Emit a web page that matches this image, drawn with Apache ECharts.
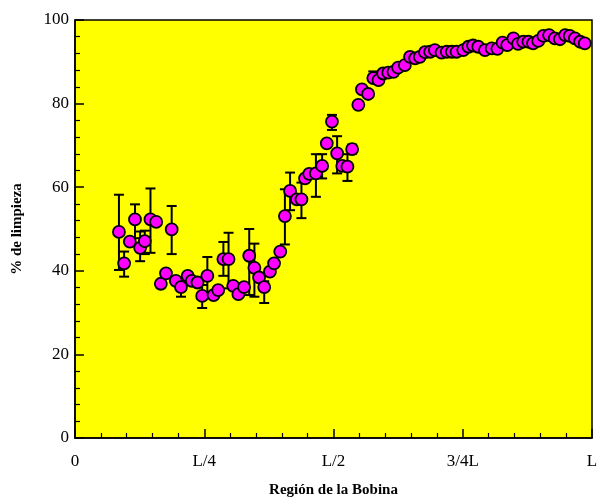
<!DOCTYPE html>
<html>
<head>
<meta charset="utf-8">
<script src="https://cdn.jsdelivr.net/npm/echarts@6/dist/echarts.min.js"></script>
<style>
  html, body { margin: 0; padding: 0; background: #fff; }
  #chart { width: 598px; height: 499px; }
</style>
</head>
<body>
<div id="chart"></div>
<script>
// posición a lo largo de la bobina, en % de L
const xPos = [8.5, 9.5, 10.6, 11.6, 12.6, 13.5, 14.6, 15.7, 16.6, 17.6,
  18.7, 19.5, 20.5, 21.8, 22.6, 23.7, 24.6, 25.6, 26.8, 27.7,
  28.7, 29.7, 30.6, 31.6, 32.7, 33.7, 34.7, 35.6, 36.6, 37.7,
  38.5, 39.7, 40.6, 41.6, 42.9, 43.8, 44.5, 45.3, 46.6, 47.8,
  48.7, 49.7, 50.7, 51.7, 52.7, 53.6, 54.8, 55.5, 56.7, 57.7,
  58.7, 59.6, 60.6, 61.6, 62.5, 63.8, 64.8, 65.8, 66.7, 67.7,
  68.7, 69.6, 70.9, 71.9, 72.9, 73.8, 75.1, 76.1, 77.0, 78.0,
  79.3, 80.6, 81.7, 82.7, 83.6, 84.8, 85.7, 86.7, 87.7, 88.6,
  89.6, 90.6, 91.7, 92.8, 93.8, 94.8, 95.7, 96.7, 97.7, 98.6];
// % de limpieza
const limpieza = [49.3, 41.8, 47.0, 52.3, 45.5, 47.1, 52.3, 51.7, 36.9, 39.4,
  49.9, 37.6, 36.1, 38.8, 37.6, 37.2, 34.0, 38.8, 34.2, 35.4,
  42.8, 42.8, 36.4, 34.4, 36.1, 43.6, 40.7, 38.4, 36.1, 39.8,
  41.8, 44.6, 53.1, 59.1, 57.1, 57.1, 62.1, 63.2, 63.3, 65.1,
  70.5, 75.7, 68.1, 65.1, 64.9, 69.1, 79.7, 83.4, 82.3, 86.1,
  85.6, 87.2, 87.4, 87.6, 88.6, 89.2, 91.2, 90.8, 91.2, 92.3,
  92.4, 92.8, 92.2, 92.4, 92.4, 92.4, 92.8, 93.6, 93.9, 93.6,
  92.8, 93.2, 93.1, 94.6, 94.0, 95.6, 94.3, 94.8, 94.8, 94.4,
  95.0, 96.2, 96.4, 95.6, 95.4, 96.4, 96.2, 95.6, 94.8, 94.4];
// barras de error (null = sin barra visible)
const errLow = [40.2, 38.6, null, 47.8, 42.3, 44.0, 44.3, null, null, null,
  44.0, null, 33.8, null, null, null, 31.1, 34.2, null, null,
  38.8, 35.8, null, null, null, 34.2, 33.8, null, 32.3, null,
  null, null, 46.3, 54.5, null, 52.6, null, null, 57.7, 62.1,
  null, 73.7, 63.3, null, 61.5, 68.0, null, null, null, 85.3,
  null, null, null, null, null, null, null, null, null, null,
  null, null, null, null, null, null, null, null, null, null,
  null, null, null, null, null, null, null, null, null, null,
  null, null, null, null, null, null, null, null, null, null];
const errHigh = [58.2, 44.6, null, 55.9, 49.4, 49.6, 59.7, null, null, null,
  55.5, null, 37.5, null, null, null, 36.6, 43.3, null, null,
  46.9, 49.1, null, null, null, 50.0, 46.5, null, 37.5, null,
  null, null, 59.5, 63.5, null, 61.1, null, null, 67.9, 67.9,
  null, 77.3, 72.2, null, 67.9, 70.2, null, null, null, 87.7,
  null, null, null, null, null, null, null, null, null, null,
  null, null, null, null, null, null, null, null, null, null,
  null, null, null, null, null, null, null, null, null, null,
  null, null, null, null, null, null, null, null, null, null];
const xTickValues = [0, 25, 50, 75, 100];
const xTickLabels = ['0', 'L/4', 'L/2', '3/4L', 'L'];

const points = xPos.map((x, i) => [x, limpieza[i]]);
const bars = [];
xPos.forEach((x, i) => {
  if (errLow[i] != null) bars.push([x, errLow[i], errHigh[i]]);
});

const font = 'Liberation Serif, Times New Roman, serif';
const chart = echarts.init(document.getElementById('chart'));

chart.setOption({
  animation: false,
  grid: {
    left: 75, right: 6, top: 20, bottom: 61,
    containLabel: false,
    outerBoundsMode: 'none',
    show: true,
    backgroundColor: '#ffff00',
    borderColor: '#000',
    borderWidth: 1.5
  },
  xAxis: {
    type: 'value',
    min: 0, max: 100, interval: 25,
    name: 'Región de la Bobina',
    nameLocation: 'middle',
    nameGap: 45,
    nameTextStyle: { fontFamily: font, fontWeight: 'bold', fontSize: 15, color: '#000' },
    axisLine: { lineStyle: { color: '#000', width: 1.5 } },
    axisTick: { inside: true, length: 9, lineStyle: { color: '#000', width: 1.5 } },
    minorTick: { show: true, splitNumber: 5, length: 5, lineStyle: { color: '#000', width: 1.2 } },
    splitLine: { show: false },
    axisLabel: {
      fontFamily: font, fontSize: 17, color: '#000', margin: 15,
      formatter: v => xTickLabels[xTickValues.indexOf(v)]
    }
  },
  yAxis: {
    type: 'value',
    min: 0, max: 100, interval: 20,
    name: '% de limpieza',
    nameLocation: 'middle',
    nameGap: 50,
    nameTextStyle: { fontFamily: font, fontWeight: 'bold', fontSize: 15, color: '#000' },
    axisLine: { lineStyle: { color: '#000', width: 1.5 } },
    axisTick: { inside: true, length: 9, lineStyle: { color: '#000', width: 1.5 } },
    minorTick: { show: true, splitNumber: 5, length: 5, lineStyle: { color: '#000', width: 1.2 } },
    splitLine: { show: false },
    axisLabel: { fontFamily: font, fontSize: 17, color: '#000', margin: 6 }
  },
  series: [
    {
      type: 'custom',
      data: bars,
      z: 2,
      renderItem: function (params, api) {
        const x = api.value(0);
        const lo = api.coord([x, api.value(1)]);
        const hi = api.coord([x, api.value(2)]);
        const w = 5;
        const style = { stroke: '#000', lineWidth: 2 };
        return {
          type: 'group',
          children: [
            { type: 'line', shape: { x1: lo[0], y1: lo[1], x2: hi[0], y2: hi[1] }, style: style },
            { type: 'line', shape: { x1: lo[0] - w, y1: lo[1], x2: lo[0] + w, y2: lo[1] }, style: style },
            { type: 'line', shape: { x1: hi[0] - w, y1: hi[1], x2: hi[0] + w, y2: hi[1] }, style: style }
          ]
        };
      }
    },
    {
      type: 'scatter',
      data: points,
      z: 3,
      symbol: 'circle',
      symbolSize: 12,
      itemStyle: { color: '#ff00ff', borderColor: '#000', borderWidth: 1.8, opacity: 1 }
    }
  ]
});
</script>
</body>
</html>
